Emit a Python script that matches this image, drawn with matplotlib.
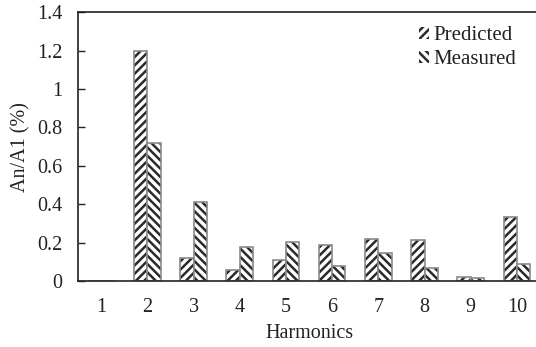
import matplotlib
matplotlib.use("Agg")
import matplotlib.pyplot as plt
import numpy as np

harmonics = [1, 2, 3, 4, 5, 6, 7, 8, 9, 10]
predicted = [0.0, 1.20, 0.12, 0.055, 0.11, 0.19, 0.22, 0.216, 0.023, 0.332]
measured = [0.0, 0.72, 0.41, 0.177, 0.203, 0.08, 0.145, 0.066, 0.014, 0.09]
series_names = ["Predicted", "Measured"]
yticks = [0, 0.2, 0.4, 0.6, 0.8, 1, 1.2, 1.4]
ytick_labels = ["0", "0.2", "0.4", "0.6", "0.8", "1", "1.2", "1.4"]

plt.rcParams['font.family'] = ['Liberation Serif', 'DejaVu Serif']
plt.rcParams['hatch.linewidth'] = 1.8

fig = plt.figure(figsize=(5.36, 3.47), dpi=100)
ax = fig.add_axes([78/536, (347-281)/347, (540-78)/536, (281-12.3)/347])

x = np.array(harmonics, dtype=float)
w = 0.29
hatch_col = '#2a2a2a'
edge_col = '#8a8a8a'

b1 = ax.bar(x - w/2, predicted, w, facecolor='white', edgecolor=hatch_col,
            hatch='////', linewidth=0, label=series_names[0])
ax.bar(x - w/2, predicted, w, facecolor='none', edgecolor=edge_col, linewidth=1.2)
b2 = ax.bar(x + w/2, measured, w, facecolor='white', edgecolor=hatch_col,
            hatch='\\\\\\\\', linewidth=0, label=series_names[1])
ax.bar(x + w/2, measured, w, facecolor='none', edgecolor=edge_col, linewidth=1.2)

fs = 14.5
ax.set_xlim(0.5, 10.5)
ax.set_ylim(0, 1.4)
ax.set_yticks(yticks)
ax.set_yticklabels(ytick_labels)
ax.set_xticks(harmonics)
ax.set_xticklabels([str(h) for h in harmonics])
ax.tick_params(axis='y', direction='in', length=5, width=1, pad=11, labelsize=fs, colors='#222222')
ax.tick_params(axis='x', length=0, pad=12, labelsize=fs, colors='#222222')
for s in ['left', 'bottom', 'top', 'right']:
    ax.spines[s].set_color('#222222')
    ax.spines[s].set_linewidth(1.2)

ax.set_xlabel("Harmonics", fontsize=fs, color='#222222', labelpad=5)
ax.set_ylabel("An/A1 (%)", fontsize=fs, color='#222222', labelpad=5)

leg = fig.legend(handles=[b1, b2], labels=series_names, loc='upper left',
                 bbox_to_anchor=(419/536, 1 - 26/347), bbox_transform=fig.transFigure,
                 frameon=False, fontsize=15, handlelength=0.5, handleheight=0.5,
                 handletextpad=0.2, labelspacing=0.25, borderpad=0, borderaxespad=0)
for t in leg.get_texts():
    t.set_color('#222222')

fig.savefig("out.png", dpi=100)
